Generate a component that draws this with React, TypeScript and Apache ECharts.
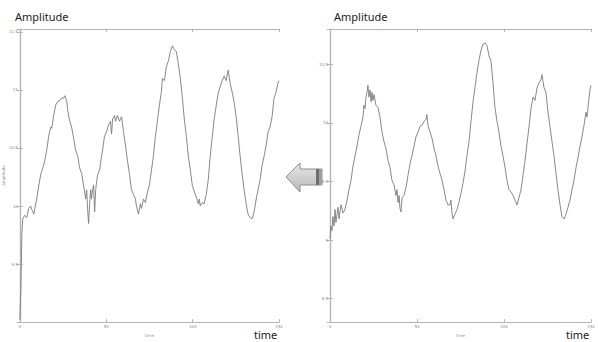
import React, { useEffect, useRef } from "react";
import * as echarts from "echarts";

// Left panel (original signal)
const leftTime = [0, 0.6, 1.2, 1.7, 2.9, 4.0, 5.2, 6.3, 6.9, 8.1, 8.7, 9.8, 11.0, 12.1, 13.3, 14.4, 15.6, 16.7, 17.9, 18.5, 19.6, 20.8, 21.9, 23.1, 24.2, 25.4, 26.0, 27.1, 27.7, 28.9, 30.0, 31.2, 32.3, 33.5, 34.6, 35.8, 36.9, 38.1, 38.7, 39.2, 39.8, 40.4, 41.0, 41.5, 42.1, 42.7, 43.3, 43.9, 45.0, 46.2, 47.3, 47.9, 49.0, 50.2, 51.4, 52.5, 53.1, 53.7, 54.8, 55.4, 56.5, 57.7, 58.9, 60.0, 61.2, 62.3, 63.5, 64.6, 65.8, 66.9, 67.5, 68.7, 69.8, 70.4, 71.6, 72.7, 73.9, 75.0, 76.2, 77.3, 78.5, 79.6, 80.8, 81.9, 82.5, 83.7, 84.8, 86.0, 87.1, 88.3, 89.4, 90.6, 91.7, 92.9, 94.1, 95.2, 96.4, 97.5, 98.7, 99.8, 101.0, 102.1, 103.3, 103.9, 104.4, 105.6, 106.7, 107.9, 109.1, 110.2, 111.4, 112.5, 113.7, 114.8, 116.0, 117.1, 118.3, 119.4, 120.6, 121.7, 122.9, 124.1, 125.2, 126.4, 127.5, 128.7, 129.8, 131.0, 132.1, 133.3, 134.4, 135.6, 136.8, 137.9, 139.1, 140.2, 141.4, 142.5, 143.7, 144.8, 146.0, 147.1, 148.3, 149.4, 150.0];
const leftAmp = [9.02, 9.27, 9.77, 9.89, 9.92, 9.9, 9.98, 10.0, 9.97, 9.93, 9.98, 10.06, 10.18, 10.27, 10.33, 10.39, 10.48, 10.6, 10.68, 10.67, 10.78, 10.87, 10.9, 10.91, 10.93, 10.93, 10.95, 10.91, 10.83, 10.73, 10.68, 10.58, 10.48, 10.43, 10.33, 10.28, 10.18, 10.06, 10.14, 9.98, 9.85, 10.02, 10.14, 10.06, 10.14, 10.18, 9.95, 10.14, 10.27, 10.31, 10.43, 10.48, 10.6, 10.64, 10.7, 10.73, 10.62, 10.75, 10.78, 10.73, 10.78, 10.73, 10.77, 10.64, 10.52, 10.39, 10.27, 10.14, 10.1, 10.06, 10.0, 9.93, 10.02, 9.98, 10.06, 10.03, 10.12, 10.18, 10.31, 10.43, 10.6, 10.73, 10.87, 10.98, 11.1, 11.08, 11.2, 11.25, 11.33, 11.38, 11.35, 11.33, 11.23, 11.1, 10.93, 10.75, 10.6, 10.43, 10.31, 10.18, 10.12, 10.08, 10.02, 10.06, 10.0, 10.03, 10.02, 10.1, 10.23, 10.43, 10.6, 10.75, 10.87, 10.97, 11.03, 11.08, 11.12, 11.08, 11.17, 11.06, 10.98, 10.89, 10.77, 10.6, 10.43, 10.27, 10.14, 10.02, 9.93, 9.9, 9.89, 9.95, 10.06, 10.14, 10.23, 10.35, 10.43, 10.52, 10.64, 10.68, 10.77, 10.93, 10.98, 11.06, 11.08];

// Right panel (processed signal)
const rightTime = [0, 0.6, 1.1, 1.7, 2.3, 2.9, 3.4, 4.6, 5.2, 6.3, 7.5, 8.6, 9.8, 10.9, 12.1, 13.2, 14.4, 15.5, 16.7, 17.8, 19.0, 19.5, 20.1, 20.7, 21.3, 21.8, 22.4, 23.0, 23.6, 24.1, 24.7, 25.3, 26.4, 27.6, 28.7, 29.9, 31.0, 32.2, 33.3, 34.5, 35.6, 36.8, 37.9, 38.5, 39.1, 39.7, 40.2, 40.8, 41.4, 42.5, 43.7, 44.8, 46.0, 47.1, 48.3, 49.4, 50.6, 51.7, 52.9, 54.0, 55.2, 55.7, 56.3, 57.5, 58.6, 59.8, 60.9, 62.1, 63.2, 64.4, 65.5, 66.7, 67.8, 69.0, 69.5, 70.1, 70.7, 71.8, 73.0, 74.1, 75.3, 76.4, 77.6, 78.7, 79.9, 81.0, 82.2, 83.3, 84.5, 85.6, 86.8, 87.9, 89.1, 90.2, 91.4, 92.5, 93.7, 94.8, 96.0, 97.1, 98.3, 99.4, 100.6, 101.7, 102.9, 104.0, 105.2, 106.3, 107.5, 108.6, 109.8, 110.9, 112.1, 113.2, 114.4, 115.5, 116.7, 117.8, 119.0, 120.1, 121.3, 121.8, 123.0, 124.1, 125.3, 126.4, 127.6, 128.7, 129.9, 131.0, 132.2, 133.3, 134.5, 135.6, 136.8, 137.9, 139.1, 140.2, 141.4, 142.5, 143.7, 144.8, 146.0, 147.1, 147.7, 148.9, 149.4, 150.0];
const rightAmp = [9.01, 9.12, 9.08, 9.2, 9.12, 9.26, 9.15, 9.28, 9.18, 9.3, 9.23, 9.26, 9.34, 9.43, 9.51, 9.63, 9.72, 9.8, 9.9, 9.97, 10.05, 10.15, 10.12, 10.22, 10.26, 10.32, 10.22, 10.28, 10.18, 10.26, 10.19, 10.24, 10.15, 10.13, 10.05, 9.92, 9.84, 9.78, 9.68, 9.62, 9.51, 9.47, 9.38, 9.43, 9.32, 9.38, 9.27, 9.24, 9.36, 9.38, 9.45, 9.55, 9.65, 9.72, 9.8, 9.88, 9.92, 9.97, 9.98, 10.01, 10.03, 10.07, 9.98, 9.92, 9.87, 9.78, 9.72, 9.63, 9.57, 9.51, 9.43, 9.34, 9.3, 9.3, 9.34, 9.23, 9.18, 9.22, 9.26, 9.32, 9.4, 9.48, 9.59, 9.72, 9.84, 10.01, 10.18, 10.3, 10.43, 10.53, 10.62, 10.67, 10.68, 10.66, 10.57, 10.53, 10.34, 10.13, 10.01, 9.92, 9.8, 9.72, 9.62, 9.51, 9.43, 9.41, 9.38, 9.34, 9.3, 9.36, 9.43, 9.55, 9.68, 9.82, 9.97, 10.12, 10.22, 10.19, 10.3, 10.34, 10.37, 10.41, 10.3, 10.26, 10.09, 9.97, 9.84, 9.72, 9.57, 9.43, 9.3, 9.2, 9.18, 9.22, 9.28, 9.34, 9.43, 9.51, 9.62, 9.7, 9.8, 9.88, 9.98, 10.09, 10.05, 10.22, 10.28, 10.32];

const xTicks = [0, 50, 100, 150];
const titleText = "Amplitude";
const timeText = "time";

const FRAME = "#b4b4b4";
const LABEL = "#8a8a8a";
const LINE = "#7a7a7a";

function xAxes(grid: number) {
  const common = {
    gridIndex: grid,
    type: "value" as const,
    min: xTicks[0],
    max: xTicks[xTicks.length - 1],
    interval: 50,
    splitLine: { show: false },
    axisLine: { show: true, lineStyle: { color: FRAME, width: 1.2 } },
    axisTick: { show: true, inside: true, length: 3, lineStyle: { color: FRAME } },
  };
  return [
    {
      ...common,
      position: "bottom",
      axisLabel: { show: true, fontSize: 4, color: LABEL, margin: 2, fontFamily: "DejaVu Sans" },
      name: "time",
      nameLocation: "middle",
      nameGap: 8,
      nameTextStyle: { fontSize: 4, color: LABEL, fontFamily: "DejaVu Sans" },
    },
    { ...common, position: "top", axisLabel: { show: false } },
  ];
}

function yAxes(grid: number, min: number, max: number, withName: boolean) {
  const common = {
    gridIndex: grid,
    type: "value" as const,
    min,
    max,
    splitNumber: 5,
    splitLine: { show: false },
    axisLine: { show: true, lineStyle: { color: FRAME, width: 1.2 } },
    axisTick: { show: true, inside: true, length: 3, lineStyle: { color: FRAME } },
  };
  return [
    {
      ...common,
      position: "left",
      axisLabel: {
        show: true,
        fontSize: 4,
        color: LABEL,
        margin: 2,
        showMinLabel: false,
        showMaxLabel: false,
        fontFamily: "DejaVu Sans",
      },
      name: withName ? "Amplitude" : "",
      nameLocation: "middle",
      nameGap: 10,
      nameRotate: 90,
      nameTextStyle: { fontSize: 4, color: LABEL, fontFamily: "DejaVu Sans" },
    },
    { ...common, position: "right", axisLabel: { show: false } },
  ];
}

export default function App() {
  const ref = useRef<HTMLDivElement>(null);
  useEffect(() => {
    if (!ref.current) return;
    const chart = echarts.init(ref.current, null, { renderer: "svg" });
    const leftData = leftTime.map((t, i) => [t, leftAmp[i]]);
    const rightData = rightTime.map((t, i) => [t, rightAmp[i]]);
    const bigText = (x: number, y: number, text: string, size: number) => ({
      type: "text",
      x,
      y,
      style: {
        text,
        fontSize: size,
        lineHeight: size,
        fill: "#222",
        fontFamily: "Noto Sans",
        verticalAlign: "top",
      },
    });
    chart.setOption({
      animation: false,
      backgroundColor: "#ffffff",
      grid: [
        { left: 19, top: 29, width: 260, height: 301 },
        { left: 330, top: 29, width: 261, height: 300 },
      ],
      xAxis: [...xAxes(0), ...xAxes(1)],
      yAxis: [...yAxes(0, 9, 11.525, true), ...yAxes(1, 8.3, 10.8, false)],
      series: [
        {
          type: "line",
          xAxisIndex: 0,
          yAxisIndex: 0,
          data: leftData,
          showSymbol: false,
          lineStyle: { color: LINE, width: 0.9 },
        },
        {
          type: "line",
          xAxisIndex: 2,
          yAxisIndex: 2,
          data: rightData,
          showSymbol: false,
          lineStyle: { color: LINE, width: 0.9 },
        },
      ],
      graphic: [
        bigText(15, 11, titleText, 11),
        bigText(334, 11, titleText, 11),
        bigText(254, 329, timeText, 11),
        bigText(566, 329, timeText, 11),
        {
          type: "polygon",
          shape: {
            points: [
              [286, 177],
              [300, 163],
              [300, 169],
              [322, 169],
              [322, 185],
              [300, 185],
              [300, 192],
            ],
          },
          style: {
            fill: new echarts.graphic.LinearGradient(0, 0, 0, 1, [
              { offset: 0, color: "#e6e6e6" },
              { offset: 0.5, color: "#d0d0d0" },
              { offset: 1, color: "#b8b8b8" },
            ]),
            stroke: "#8c8c8c",
            lineWidth: 1,
          },
        },
        {
          type: "rect",
          shape: { x: 316, y: 169, width: 3, height: 16 },
          style: { fill: "#6e6e6e" },
        },
        {
          type: "rect",
          shape: { x: 319, y: 169, width: 3, height: 16 },
          style: { fill: "#a0a0a0" },
        },
      ],
    });
    return () => chart.dispose();
  }, []);
  return (
    <div
      ref={ref}
      style={{ position: "absolute", left: 0, top: 0, width: 598, height: 342 }}
    />
  );
}
